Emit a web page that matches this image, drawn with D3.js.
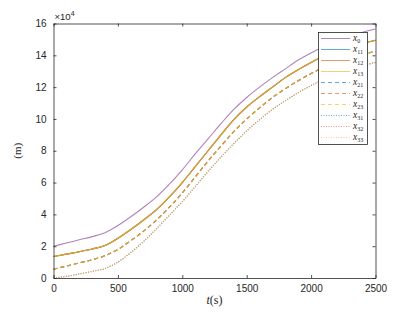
<!DOCTYPE html>
<html>
<head>
<meta charset="utf-8">
<script src="https://cdn.jsdelivr.net/npm/d3@7"></script>
<style>
  body { margin: 0; background: #fff; }
  svg { display: block; }
</style>
</head>
<body>
<script>
// time axis (s)
const tVals = [0, 100, 200, 300, 400, 500, 600, 700, 800, 900, 1000, 1100, 1200,
  1300, 1400, 1500, 1600, 1700, 1800, 1900, 2000, 2100, 2200, 2300, 2400, 2500];

// values in units of 1e4 m
const x0 = [2.0, 2.2, 2.4, 2.6, 2.85, 3.3, 3.85, 4.45, 5.1, 5.9, 6.8, 7.8, 8.75,
  9.7, 10.6, 11.35, 12.0, 12.6, 13.15, 13.7, 14.15, 14.55, 14.9, 15.2, 15.45, 15.65];
const xSolid = [1.35, 1.5, 1.65, 1.82, 2.05, 2.5, 3.05, 3.65, 4.3, 5.1, 6.0, 7.0, 8.0,
  9.0, 9.95, 10.75, 11.4, 12.0, 12.6, 13.1, 13.55, 13.95, 14.25, 14.5, 14.75, 14.95];
const xDashed = [0.55, 0.75, 0.95, 1.15, 1.4, 1.8, 2.35, 2.95, 3.65, 4.45, 5.35, 6.35, 7.35,
  8.3, 9.2, 10.0, 10.7, 11.35, 11.9, 12.4, 12.85, 13.25, 13.55, 13.8, 14.05, 14.25];
const xDotted = [0.0, 0.1, 0.25, 0.42, 0.6, 1.0, 1.6, 2.3, 3.1, 3.95, 4.8, 5.75, 6.7,
  7.6, 8.45, 9.25, 9.95, 10.6, 11.15, 11.65, 12.1, 12.5, 12.85, 13.1, 13.35, 13.55];

const seriesNames = ['0', '11', '12', '13', '21', '22', '23', '31', '32', '33'];
const seriesColors = ['#7E2F8E', '#0072BD', '#D95319', '#EDB120', '#0072BD', '#D95319', '#EDB120', '#0072BD', '#D95319', '#EDB120'];
const seriesDash = ['', '', '', '', '4,3', '4,3', '4,3', '1,1.5', '1,1.5', '1,1.5'];
const seriesData = [x0, xSolid, xSolid, xSolid, xDashed, xDashed, xDashed, xDotted, xDotted, xDotted];

const xTicks = [0, 500, 1000, 1500, 2000, 2500];
const yTicks = [0, 2, 4, 6, 8, 10, 12, 14, 16];

const W = 415, H = 312;
const m = {left: 53.5, right: 39.5, top: 23.5, bottom: 34};

const svg = d3.select('body').append('svg').attr('width', W).attr('height', H);

const x = d3.scaleLinear().domain([0, 2500]).range([m.left, W - m.right]);
const y = d3.scaleLinear().domain([0, 16]).range([H - m.bottom, m.top]);

const axisCol = '#262626';
const tickFont = '"Liberation Sans", Arial, sans-serif';

// lines (the three colours of each group lie on top of each other)
const line = d3.line().curve(d3.curveMonotoneX).x((d, i) => x(tVals[i])).y(d => y(d));
seriesData.forEach((s, k) => {
  svg.append('path')
    .attr('d', line(s))
    .attr('fill', 'none')
    .attr('stroke', seriesColors[k])
    .attr('stroke-opacity', k === 0 ? 0.6 : (k >= 7 ? 0.5 : 0.85))
    .attr('stroke-width', 1.1)
    .attr('stroke-dasharray', seriesDash[k] || null);
});

// axes with inward ticks
const fmt = d3.format('d');
const gx = svg.append('g').attr('transform', `translate(0,${H - m.bottom})`)
  .call(d3.axisBottom(x).tickValues(xTicks).tickFormat(fmt).tickSizeInner(-3).tickSizeOuter(0).tickPadding(7));
const gxTop = svg.append('g').attr('transform', `translate(0,${m.top})`)
  .call(d3.axisTop(x).tickValues(xTicks).tickSizeInner(-3).tickSizeOuter(0).tickFormat(''));
const gy = svg.append('g').attr('transform', `translate(${m.left},0)`)
  .call(d3.axisLeft(y).tickValues(yTicks).tickFormat(fmt).tickSizeInner(-3).tickSizeOuter(0).tickPadding(7));
const gyR = svg.append('g').attr('transform', `translate(${W - m.right},0)`)
  .call(d3.axisRight(y).tickValues(yTicks).tickSizeInner(-3).tickSizeOuter(0).tickFormat(''));

[gx, gxTop, gy, gyR].forEach(g => {
  g.selectAll('path').attr('stroke', axisCol).attr('stroke-width', 0.8);
  g.selectAll('line').attr('stroke', axisCol).attr('stroke-width', 0.8);
  g.selectAll('text').attr('fill', axisCol).style('font-family', tickFont).style('font-size', '10px');
});

// exponent label
const ex = svg.append('text').attr('x', m.left + 1).attr('y', m.top - 4)
  .attr('fill', axisCol).style('font-family', tickFont).style('font-size', '9.5px');
ex.append('tspan').text('\u00d710');
ex.append('tspan').attr('dy', -4).style('font-size', '7px').text('4');

// axis labels
const serif = '"Liberation Serif", "DejaVu Serif", serif';
const xl = svg.append('text').attr('x', (m.left + W - m.right) / 2).attr('y', H - 8)
  .attr('text-anchor', 'middle').attr('fill', axisCol)
  .style('font-family', serif).style('font-size', '12px');
xl.append('tspan').style('font-style', 'italic').text('t');
xl.append('tspan').text('(s)');

svg.append('text')
  .attr('transform', `translate(21,${(m.top + H - m.bottom) / 2}) rotate(-90)`)
  .attr('text-anchor', 'middle').attr('fill', axisCol)
  .style('font-family', serif).style('font-size', '11px')
  .text('(m)');

// legend
const lg = svg.append('g');
const lx0 = 318, ly0 = 32, lw = 49, lh = 112;
lg.append('rect').attr('x', lx0 + 0.5).attr('y', ly0 + 0.5).attr('width', lw).attr('height', lh)
  .attr('fill', '#fff').attr('stroke', axisCol).attr('stroke-width', 0.8);
seriesNames.forEach((n, k) => {
  const yy = ly0 + 6.5 + k * 11;
  lg.append('line').attr('x1', lx0 + 3).attr('x2', lx0 + 32).attr('y1', yy).attr('y2', yy)
    .attr('stroke', seriesColors[k]).attr('stroke-opacity', 0.6).attr('stroke-width', 1)
    .attr('stroke-dasharray', seriesDash[k] || null);
  const t = lg.append('text').attr('x', lx0 + 35).attr('y', yy + 2.5)
    .attr('fill', axisCol).style('font-family', serif).style('font-size', '9.5px');
  t.append('tspan').style('font-style', 'italic').text('x');
  t.append('tspan').attr('dy', 2).style('font-size', '6px').text(n);
});
</script>
</body>
</html>
